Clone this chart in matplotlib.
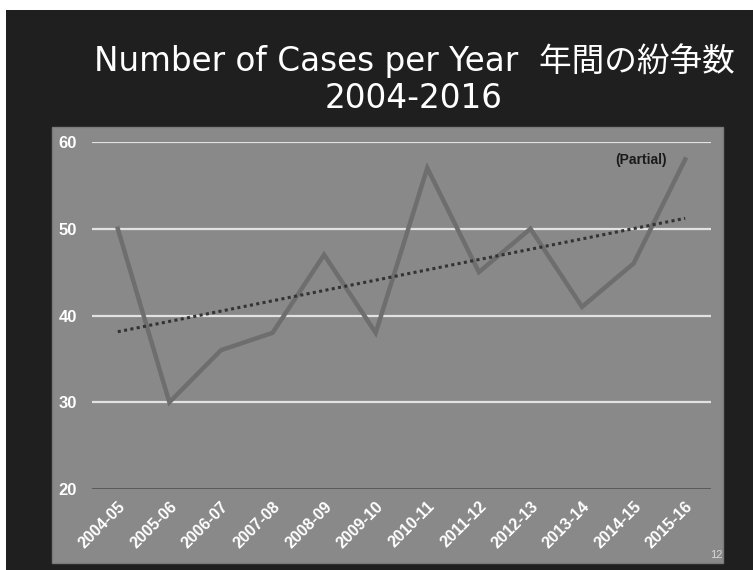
import numpy as np
import matplotlib.pyplot as plt
from matplotlib.patches import Rectangle

# data
years = ['2004-05', '2005-06', '2006-07', '2007-08', '2008-09', '2009-10',
         '2010-11', '2011-12', '2012-13', '2013-14', '2014-15', '2015-16']
cases = [50, 30, 36, 38, 47, 38, 57, 45, 50, 41, 46, 58]
y_ticks = [20, 30, 40, 50, 60]

W, H = 753, 570
fig = plt.figure(figsize=(W / 100, H / 100), dpi=100, facecolor='white')

def box(x0, y0, x1, y1):
    # pixel box (top-left origin) -> figure fraction rect
    return [x0 / W, 1 - y1 / H, (x1 - x0) / W, (y1 - y0) / H]

# dark slide background
fig.patches.append(Rectangle((6 / W, 0), 1 - 6 / W, 1 - 10 / H,
                             transform=fig.transFigure, facecolor='#1f1f1f',
                             edgecolor='none', zorder=-2))
# gray chart panel
b = box(52, 127, 723, 563)
fig.patches.append(Rectangle((b[0], b[1]), b[2], b[3], transform=fig.transFigure,
                             facecolor='#898989', edgecolor='#7a7a7a', zorder=-1))

title_font = ['DejaVu Sans', 'Noto Sans CJK JP']
fig.text(414 / W, 1 - 61 / H, 'Number of Cases per Year  年間の紛争数',
         ha='center', va='center', color='white', fontsize=23.5, family=title_font)
fig.text(414 / W, 1 - 99 / H, '2004-2016',
         ha='center', va='center', color='white', fontsize=23.5, family=title_font)

ax = fig.add_axes(box(92, 142, 711, 489))
ax.set_facecolor('none')
x = np.arange(len(years))

for t in y_ticks[1:]:
    ax.axhline(t, color='#e2e2e2', lw=1.6, zorder=1)
ax.axhline(20, color='#4d4d4d', lw=1.8, zorder=1)

ax.plot(x, cases, color='#6e6e6e', lw=3.2, solid_joinstyle='miter', zorder=3)

# linear trend line
slope, intercept = np.polyfit(x, cases, 1)
ax.plot(x, slope * x + intercept, color='#333333', lw=2.2, ls=(0, (1, 1.1)), zorder=4)

ax.text(10.15, 57.9, '(Partial)', ha='center', va='center', fontsize=10,
        fontweight='bold', color='#1a1a1a', family='Liberation Sans')

ax.set_xlim(-0.5, len(years) - 0.5)
ax.set_ylim(20, 60)
ax.set_yticks(y_ticks)
ax.set_xticks(x)
ax.set_xticklabels(years, rotation=45, ha='right', rotation_mode='anchor')
ax.tick_params(axis='both', length=0, colors='white')
ax.tick_params(axis='y', pad=11)
ax.tick_params(axis='x', pad=7)
for lab in ax.get_xticklabels():
    lab.set_fontfamily('Liberation Sans')
    lab.set_fontweight('bold')
    lab.set_fontsize(11.5)
for lab in ax.get_yticklabels():
    lab.set_fontfamily('Liberation Sans')
    lab.set_fontweight('bold')
    lab.set_fontsize(12)
for s in ax.spines.values():
    s.set_visible(False)

fig.text(716 / W, 1 - 555 / H, '12', ha='center', va='center', color='#d8d8d8',
         fontsize=8, family='Liberation Sans')

fig.savefig('out.png', dpi=100, facecolor=fig.get_facecolor())
